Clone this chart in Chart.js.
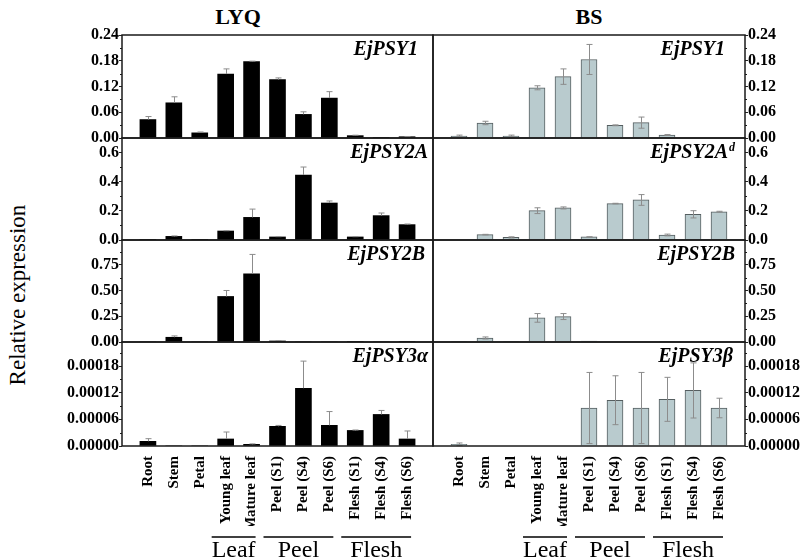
<!DOCTYPE html>
<html>
<head>
<meta charset="utf-8">
<script src="https://cdn.jsdelivr.net/npm/chart.js@4.4.0/dist/chart.umd.min.js"></script>
<style>
    body { margin: 0; background: #fff; }
    #lienzo { position: relative; width: 800px; height: 558px; overflow: hidden; font-family: "Liberation Serif", "Times New Roman", serif; }
    #lienzo canvas { position: absolute; }
    .titulo { position: absolute; top: 4px; font-weight: bold; font-size: 22px; transform: translateX(-50%); }
    #ejeY { position: absolute; left: 18px; top: 295px; font-size: 23px; white-space: nowrap; transform: translate(-50%, -50%) rotate(-90deg); }
</style>
</head>
<body>
<div id="lienzo">
    <div class="titulo" style="left:238px">LYQ</div>
    <div class="titulo" style="left:589px">BS</div>
    <div id="ejeY">Relative expression</div>
</div>
<script>
// Categorías (tejidos) y grupos del eje X
const tejidos = ['Root', 'Stem', 'Petal', 'Young leaf', 'Mature leaf', 'Peel (S1)', 'Peel (S4)', 'Peel (S6)', 'Flesh (S1)', 'Flesh (S4)', 'Flesh (S6)'];
const grupos = ['Leaf', 'Peel', 'Flesh'];
const gruposDesde = [3, 5, 8];
const gruposHasta = [4, 7, 10];

// Etiquetas de los ejes Y
const ticksPsy1 = ['0.00', '0.06', '0.12', '0.18', '0.24'];
const ticksPsy2A = ['0.0', '0.2', '0.4', '0.6'];
const ticksPsy2B = ['0.00', '0.25', '0.50', '0.75'];
const ticksPsy3 = ['0.00000', '0.00006', '0.00012', '0.00018'];

// EjPSY1
const lyqPsy1 = [0.043, 0.082, 0.012, 0.149, 0.178, 0.136, 0.055, 0.093, 0.0055, 0.0006, 0.003];
const lyqPsy1Err = [0.007, 0.014, 0.002, 0.012, 0.001, 0.004, 0.006, 0.015, 0.001, 0, 0.0005];
const bsPsy1 = [0.0047, 0.035, 0.0047, 0.117, 0.143, 0.183, 0.0296, 0.0358, 0.007, 0, 0];
const bsPsy1Err = [0.002, 0.004, 0.002, 0.0047, 0.018, 0.035, 0.001, 0.013, 0.001, 0, 0];

// EjPSY2A
const lyqPsy2A = [0.002, 0.025, 0.002, 0.062, 0.156, 0.021, 0.448, 0.255, 0.021, 0.168, 0.106];
const lyqPsy2AErr = [0, 0.003, 0, 0.002, 0.057, 0.002, 0.055, 0.014, 0.002, 0.018, 0.004];
const bsPsy2A = [0, 0.037, 0.018, 0.202, 0.221, 0.021, 0.251, 0.276, 0.0345, 0.177, 0.195];
const bsPsy2AErr = [0, 0.002, 0.004, 0.02, 0.007, 0.001, 0.002, 0.037, 0.006, 0.025, 0.003];

// EjPSY2B
const lyqPsy2B = [0, 0.046, 0, 0.442, 0.662, 0.01, 0, 0, 0.001, 0, 0.001];
const lyqPsy2BErr = [0, 0.013, 0, 0.058, 0.188, 0.002, 0, 0, 0, 0, 0];
const bsPsy2B = [0.001, 0.039, 0.003, 0.234, 0.247, 0.008, 0, 0, 0.003, 0, 0];
const bsPsy2BErr = [0, 0.01, 0, 0.042, 0.029, 0, 0, 0, 0, 0, 0];

// EjPSY3
const lyqPsy3 = [1.05e-5, 0, 0, 1.58e-5, 0.38e-5, 4.43e-5, 1.30e-4, 4.65e-5, 3.5e-5, 7.1e-5, 1.58e-5];
const lyqPsy3Err = [0.6e-5, 0, 0, 1.57e-5, 0.1e-5, 0.2e-5, 6.1e-5, 3.1e-5, 0.1e-5, 0.9e-5, 1.8e-5];
const bsPsy3 = [0.38e-5, 0, 0, 0, 0, 8.55e-5, 1.03e-4, 8.55e-5, 1.05e-4, 1.25e-4, 8.55e-5];
const bsPsy3Err = [0.3e-5, 0, 0, 0, 0, 8.0e-5, 5.5e-5, 8.0e-5, 4.95e-5, 6.2e-5, 2.2e-5];

// Posición vertical de cada fila de paneles
const filasTop = [35, 138, 240, 342];
const filasBottom = [138, 240, 342, 446];

const FUENTE = '"Liberation Serif", "Times New Roman", serif';

const paneles = [
    { fila: 0, col: 0, gen: 'EjPSY1', valores: lyqPsy1, errores: lyqPsy1Err, marcas: ticksPsy1, max: 0.24, margen: 15 },
    { fila: 0, col: 1, gen: 'EjPSY1', valores: bsPsy1, errores: bsPsy1Err, marcas: ticksPsy1, max: 0.24, margen: 20 },
    { fila: 1, col: 0, gen: 'EjPSY2A', valores: lyqPsy2A, errores: lyqPsy2AErr, marcas: ticksPsy2A, max: 0.703, margen: 5 },
    { fila: 1, col: 1, gen: 'EjPSY2A', sup: 'd', valores: bsPsy2A, errores: bsPsy2AErr, marcas: ticksPsy2A, max: 0.703, margen: 10 },
    { fila: 2, col: 0, gen: 'EjPSY2B', valores: lyqPsy2B, errores: lyqPsy2BErr, marcas: ticksPsy2B, max: 0.99, margen: 8 },
    { fila: 2, col: 1, gen: 'EjPSY2B', valores: bsPsy2B, errores: bsPsy2BErr, marcas: ticksPsy2B, max: 0.99, margen: 10 },
    { fila: 3, col: 0, gen: 'EjPSY3α', valores: lyqPsy3, errores: lyqPsy3Err, marcas: ticksPsy3, max: 0.000234, margen: 5 },
    { fila: 3, col: 1, gen: 'EjPSY3β', valores: bsPsy3, errores: bsPsy3Err, marcas: ticksPsy3, max: 0.000234, margen: 12 }
];

// Plugin con barras de error, marco, marcas menores, título del gen y grupos
function crearPluginPanel(panel) {
    const esIzq = panel.col === 0;
    return {
        id: 'decoracion',
        afterDatasetsDraw(chart) {
            const ctx = chart.ctx;
            const ys = chart.scales.y;
            const meta = chart.getDatasetMeta(0);
            ctx.save();
            ctx.strokeStyle = '#8c8c8c';
            ctx.lineWidth = 1;
            meta.data.forEach((barra, i) => {
                const k = i - 1;
                if (k < 0 || k >= panel.valores.length) return;
                const v = panel.valores[k];
                const e = panel.errores[k];
                if (!e) return;
                const x = Math.round(barra.x) + 0.5;
                const yArriba = ys.getPixelForValue(v + e);
                const yAbajo = esIzq ? ys.getPixelForValue(v) : ys.getPixelForValue(Math.max(v - e, 0));
                ctx.beginPath();
                ctx.moveTo(x, yArriba);
                ctx.lineTo(x, yAbajo);
                ctx.moveTo(x - 3, yArriba);
                ctx.lineTo(x + 3, yArriba);
                if (!esIzq) {
                    ctx.moveTo(x - 3, yAbajo);
                    ctx.lineTo(x + 3, yAbajo);
                }
                ctx.stroke();
            });
            ctx.restore();
        },
        afterDraw(chart) {
            const ctx = chart.ctx;
            const ca = chart.chartArea;
            const ys = chart.scales.y;
            ctx.save();

            // Marco del panel
            ctx.strokeStyle = '#1a1a1a';
            ctx.lineWidth = 1.5;
            ctx.strokeRect(ca.left, ca.top, ca.right - ca.left, ca.bottom - ca.top);

            // Marcas menores del eje Y
            const vals = panel.marcas.map(Number);
            const paso = vals[1] - vals[0];
            const xEje = esIzq ? ca.left : ca.right;
            const dir = esIzq ? -1 : 1;
            ctx.lineWidth = 1;
            vals.forEach(v => {
                const m = v + paso / 2;
                if (m > ys.max) return;
                const py = Math.round(ys.getPixelForValue(m)) + 0.5;
                ctx.beginPath();
                ctx.moveTo(xEje, py);
                ctx.lineTo(xEje + dir * 2, py);
                ctx.stroke();
            });

            // Nombre del gen
            ctx.fillStyle = '#000';
            ctx.textAlign = 'right';
            ctx.textBaseline = 'alphabetic';
            let xDer = ca.right - panel.margen;
            if (panel.sup) {
                ctx.font = 'bold italic 12px ' + FUENTE;
                ctx.fillText(panel.sup, xDer, ca.top + 13);
                xDer -= ctx.measureText(panel.sup).width + 1;
            }
            ctx.font = 'bold italic 20px ' + FUENTE;
            ctx.fillText(panel.gen, xDer, ca.top + 20);

            // Grupos (Leaf, Peel, Flesh) debajo del eje X
            if (panel.fila === 3) {
                const xs = chart.scales.x;
                const yLinea = ca.bottom + 91;
                const yTexto = ca.bottom + 111;
                ctx.lineWidth = 1.5;
                ctx.strokeStyle = '#000';
                ctx.textAlign = 'center';
                ctx.font = '24px ' + FUENTE;
                grupos.forEach((g, k) => {
                    const x1 = xs.getPixelForValue(gruposDesde[k] + 1) - 14;
                    const x2 = xs.getPixelForValue(gruposHasta[k] + 1) + 4;
                    ctx.beginPath();
                    ctx.moveTo(x1, yLinea);
                    ctx.lineTo(x2, yLinea);
                    ctx.stroke();
                    ctx.fillText(g, (x1 + x2) / 2, yTexto);
                });
            }
            ctx.restore();
        }
    };
}

// Crear un panel (un gráfico de barras por canvas)
function crearPanel(panel) {
    const esAbajo = panel.fila === 3;
    const esIzq = panel.col === 0;
    const top = filasTop[panel.fila] - 12;
    const altoArea = filasBottom[panel.fila] - filasTop[panel.fila];
    const alto = esAbajo ? 558 - top : altoArea + 24;
    const ancho = esIzq ? 436 : 370;
    const altoEjeX = 80;
    const padAbajo = esAbajo ? alto - 12 - altoArea - altoEjeX : 12;

    const canvas = document.createElement('canvas');
    canvas.width = ancho;
    canvas.height = alto;
    canvas.style.left = (esIzq ? 0 : 430) + 'px';
    canvas.style.top = top + 'px';
    document.getElementById('lienzo').appendChild(canvas);

    const etiquetas = ['', ...tejidos, ''];
    const datos = [null, ...panel.valores, null];

    new Chart(canvas, {
        type: 'bar',
        data: {
            labels: etiquetas,
            datasets: [{
                data: datos,
                backgroundColor: esIzq ? '#000000' : '#b9cbce',
                borderColor: esIzq ? '#000000' : '#555e60',
                borderWidth: esIzq ? 0 : 1,
                barThickness: 16
            }]
        },
        options: {
            responsive: false,
            animation: false,
            devicePixelRatio: 1,
            layout: { padding: { top: 12, bottom: padAbajo, left: esIzq ? 0 : 3, right: esIzq ? 3 : 0 } },
            plugins: { legend: { display: false }, tooltip: { enabled: false } },
            scales: {
                x: {
                    display: esAbajo,
                    offset: false,
                    grid: { display: false },
                    border: { display: false },
                    ticks: {
                        autoSkip: false,
                        minRotation: 90,
                        maxRotation: 90,
                        padding: 2,
                        color: '#000',
                        font: { family: FUENTE, size: 15, weight: 'bold' }
                    },
                    afterFit: (s) => {
                        if (!esAbajo) return;
                        s.height = altoEjeX;
                        s.paddingLeft = 0;
                        s.paddingRight = 0;
                    }
                },
                y: {
                    position: esIzq ? 'left' : 'right',
                    min: 0,
                    max: panel.max,
                    grid: { drawOnChartArea: false, drawTicks: true, tickLength: 3, color: '#222' },
                    border: { display: false },
                    ticks: {
                        padding: 0,
                        color: '#000',
                        font: { family: FUENTE, size: 16, weight: 'bold' },
                        callback: (v, i) => panel.marcas[i]
                    },
                    afterBuildTicks: (s) => { s.ticks = panel.marcas.map(t => ({ value: Number(t) })); },
                    afterFit: (s) => { s.width = esIzq ? 122 : 55; }
                }
            }
        },
        plugins: [crearPluginPanel(panel)]
    });
}

paneles.forEach(crearPanel);
</script>
</body>
</html>
